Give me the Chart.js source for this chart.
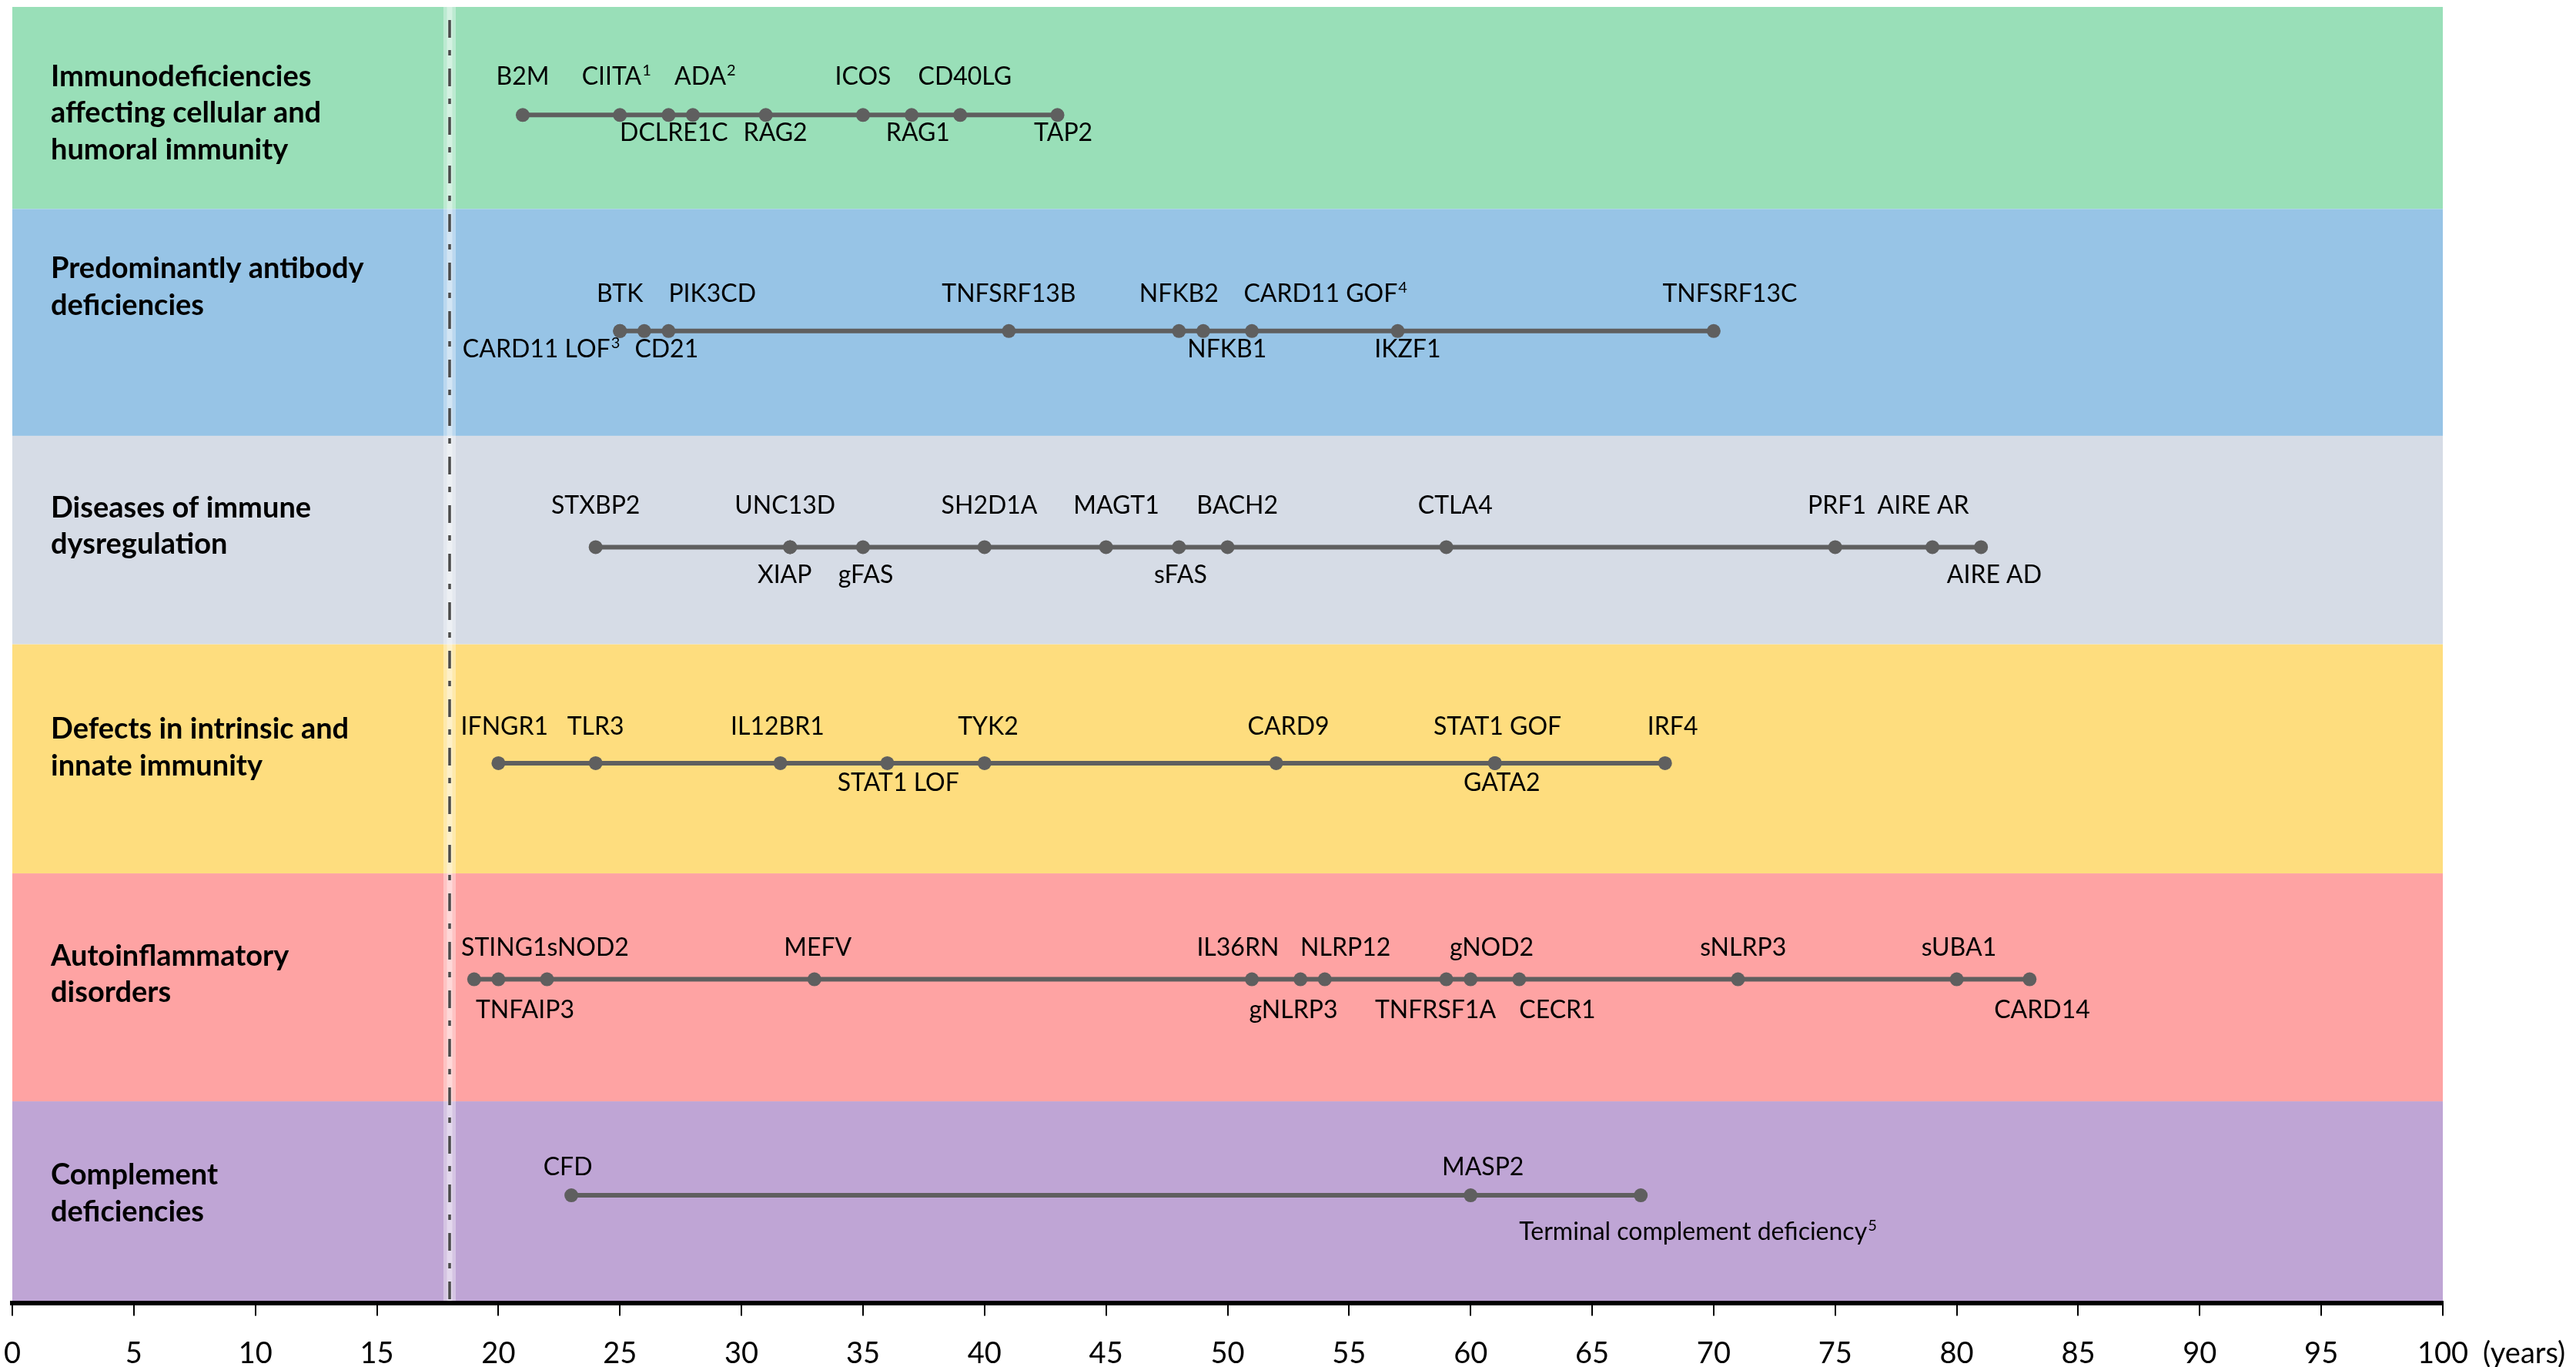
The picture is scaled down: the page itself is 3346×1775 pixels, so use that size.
<!DOCTYPE html>
<html>
<head>
<meta charset="utf-8">
<title>Age at diagnosis by IEI category</title>
<script src="https://cdn.jsdelivr.net/npm/chart.js@4.4.1/dist/chart.umd.min.js"></script>
<style>
  html, body { margin: 0; padding: 0; background: #fff; }
  #chart { display: block; }
</style>
</head>
<body>
<canvas id="chart" width="3346" height="1775"></canvas>
<script>
// ---- data ----
var categoryTitles = [
    ['Immunodeficiencies', 'affecting cellular and', 'humoral immunity'],
    ['Predominantly antibody', 'deficiencies'],
    ['Diseases of immune', 'dysregulation'],
    ['Defects in intrinsic and', 'innate immunity'],
    ['Autoinflammatory', 'disorders'],
    ['Complement', 'deficiencies']
];

var cutoffAge = 18;          // dash-dot reference line
var axisMin = 0, axisMax = 100, axisStep = 5;
var axisUnit = '(years)';

var cellularGenes = ['B2M', 'CIITA¹', 'DCLRE1C', 'ADA²', 'RAG2', 'ICOS', 'RAG1', 'CD40LG', 'TAP2'];
var cellularAges  = [21, 25, 27, 28, 31, 35, 37, 39, 43];

var antibodyGenes = ['BTK', 'CARD11 LOF³', 'CD21', 'PIK3CD', 'TNFSRF13B', 'NFKB2', 'NFKB1', 'CARD11 GOF⁴', 'IKZF1', 'TNFSRF13C'];
var antibodyAges  = [25, 25, 26, 27, 41, 48, 49, 51, 57, 70];

var dysregGenes = ['STXBP2', 'UNC13D', 'XIAP', 'gFAS', 'SH2D1A', 'MAGT1', 'sFAS', 'BACH2', 'CTLA4', 'PRF1', 'AIRE AR', 'AIRE AD'];
var dysregAges  = [24, 32, 32, 35, 40, 45, 48, 50, 59, 75, 79, 81];

var innateGenes = ['IFNGR1', 'TLR3', 'IL12BR1', 'STAT1 LOF', 'TYK2', 'CARD9', 'STAT1 GOF', 'GATA2', 'IRF4'];
var innateAges  = [20, 24, 31.6, 36, 40, 52, 61, 61, 68];

var autoinflGenes = ['STING1', 'TNFAIP3', 'sNOD2', 'MEFV', 'IL36RN', 'gNLRP3', 'NLRP12', 'TNFRSF1A', 'gNOD2', 'CECR1', 'sNLRP3', 'sUBA1', 'CARD14'];
var autoinflAges  = [19, 20, 22, 33, 51, 53, 54, 59, 60, 62, 71, 80, 83];

var complementGenes = ['CFD', 'MASP2', 'Terminal complement deficiency⁵'];
var complementAges  = [23, 60, 67];

// ---- label placement (a = above the line, b = below; anchor = share of text left of the point) ----
var cellularSide     = ['a','a','b','a','b','a','b','a','b'];
var cellularAnchor   = [.5, .55, .45, .3, .35, .5, .4, .45, .4];
var antibodySide     = ['a','b','b','a','a','a','b','a','b','a'];
var antibodyAnchor   = [.5, 1, .15, 0, .5, .5, .2, .05, .35, .38];
var dysregSide       = ['a','a','b','b','a','a','b','a','a','a','a','b'];
var dysregAnchor     = [.5, .55, .6, .45, .45, .38, .47, .38, .38, .47, .6, .36];
var innateSide       = ['a','a','a','b','a','a','a','b','a'];
var innateAnchor     = [.43, .5, .53, .41, .44, .35, .48, .41, .35];
var autoinflSide     = ['a','b','a','a','a','b','a','b','a','b','a','a','b'];
var autoinflAnchor   = [.15, .23, 0, .45, .67, .58, .27, .59, .25, 0, .44, .47, .37];
var complementSide   = ['a','a','b'];
var complementAnchor = [.57, .35, .34];

// ---- look ----
var bandColors = ['#99dfb8', '#97c4e6', '#d6dce6', '#fedd7e', '#fea3a3', '#bfa5d5'];
var bandEdges  = [-0.5, 0.435, 1.485, 2.45, 3.51, 4.565, 5.5];   // in row units
var markColor  = '#5f5f5f';
var labelAbove = [39, 38, 43, 37, 31, 26];   // px from line to text baseline
var labelBelow = [11, 11, 24, 13, 27, 35];   // px from line to cap top
var titleShift = [-50, -81, -51, -44, -30, -26];
var FONT = 'Lato, "Open Sans", sans-serif';
var LABEL_SIZE = 32;
var TICK_LEN = 16, TICK_PAD = 27, TICK_SIZE = 38;

var rows = [
    { genes: cellularGenes,   ages: cellularAges,   side: cellularSide,   anchor: cellularAnchor },
    { genes: antibodyGenes,   ages: antibodyAges,   side: antibodySide,   anchor: antibodyAnchor },
    { genes: dysregGenes,     ages: dysregAges,     side: dysregSide,     anchor: dysregAnchor },
    { genes: innateGenes,     ages: innateAges,     side: innateSide,     anchor: innateAnchor },
    { genes: autoinflGenes,   ages: autoinflAges,   side: autoinflSide,   anchor: autoinflAnchor },
    { genes: complementGenes, ages: complementAges, side: complementSide, anchor: complementAnchor }
];

var supDigits = { '¹': '1', '²': '2', '³': '3', '⁴': '4', '⁵': '5' };

// draws a gene label, trailing superscript digits drawn small and raised
function drawLabel(ctx, text, x, y, anchor) {
    var m = text.match(/^(.*?)([¹²³⁴⁵]*)$/);
    var main = m[1];
    var sup = m[2].split('').map(function (c) { return supDigits[c]; }).join('');
    ctx.font = LABEL_SIZE + 'px ' + FONT;
    var mainW = ctx.measureText(main).width;
    ctx.font = Math.round(LABEL_SIZE * 0.62) + 'px ' + FONT;
    var supW = sup ? ctx.measureText(sup).width + 1 : 0;
    var start = x - anchor * (mainW + supW);
    ctx.font = LABEL_SIZE + 'px ' + FONT;
    ctx.fillText(main, start, y);
    if (sup) {
        ctx.font = Math.round(LABEL_SIZE * 0.62) + 'px ' + FONT;
        ctx.fillText(sup, start + mainW + 1, y - LABEL_SIZE * 0.38);
    }
}

var backdropPlugin = {
    id: 'backdrop',
    beforeDraw: function (chart) {
        var ctx = chart.ctx, area = chart.chartArea;
        var xs = chart.scales.x, ys = chart.scales.y;
        ctx.save();
        // coloured category bands
        for (var i = 0; i < bandColors.length; i++) {
            var top = ys.getPixelForValue(bandEdges[i]);
            var bottom = ys.getPixelForValue(bandEdges[i + 1]);
            ctx.fillStyle = bandColors[i];
            ctx.fillRect(area.left, top, area.right - area.left, bottom - top);
        }
        // category titles
        ctx.fillStyle = '#000';
        ctx.font = 'bold 38px ' + FONT;
        ctx.textBaseline = 'middle';
        ctx.textAlign = 'left';
        categoryTitles.forEach(function (lines, i) {
            var lineY = ys.getPixelForValue(i);
            lines.forEach(function (line, k) {
                ctx.fillText(line, area.left + 50, lineY + titleShift[i] + k * 47.5);
            });
        });
        // 18-year reference line with a pale halo
        var cx = Math.round(xs.getPixelForValue(cutoffAge));
        ctx.strokeStyle = 'rgba(255,255,255,0.35)';
        ctx.lineWidth = 16;
        ctx.beginPath(); ctx.moveTo(cx, area.top); ctx.lineTo(cx, area.bottom); ctx.stroke();
        ctx.lineWidth = 7;
        ctx.beginPath(); ctx.moveTo(cx, area.top); ctx.lineTo(cx, area.bottom); ctx.stroke();
        ctx.strokeStyle = '#4a4a4a';
        ctx.lineWidth = 3.5;
        ctx.setLineDash([23, 16, 7, 17]);
        ctx.beginPath(); ctx.moveTo(cx, area.top + 17); ctx.lineTo(cx, area.bottom); ctx.stroke();
        ctx.restore();
    }
};

var labelPlugin = {
    id: 'geneLabels',
    afterDatasetsDraw: function (chart) {
        var ctx = chart.ctx;
        ctx.save();
        ctx.fillStyle = '#000';
        ctx.textBaseline = 'alphabetic';
        ctx.textAlign = 'left';
        var capH = LABEL_SIZE * 0.72;
        rows.forEach(function (row, i) {
            var meta = chart.getDatasetMeta(i);
            meta.data.forEach(function (pt, j) {
                var y = row.side[j] === 'a' ? pt.y - labelAbove[i] : pt.y + labelBelow[i] + capH;
                drawLabel(ctx, row.genes[j], pt.x, y, row.anchor[j]);
            });
        });
        // unit after the last tick
        var xs = chart.scales.x;
        ctx.font = TICK_SIZE + 'px ' + FONT;
        ctx.textBaseline = 'middle';
        ctx.fillText(axisUnit, xs.getPixelForValue(axisMax) + 52, xs.top + TICK_LEN + TICK_PAD + TICK_SIZE * 0.6);
        ctx.restore();
    }
};

var ctx = document.getElementById('chart');

var chart = new Chart(ctx, {
    type: 'scatter',
    data: {
        datasets: rows.map(function (row, i) {
            return {
                label: categoryTitles[i].join(' '),
                data: row.ages.map(function (age) { return { x: age, y: i }; }),
                showLine: true,
                borderColor: markColor,
                borderWidth: 6,
                pointRadius: 9,
                pointHoverRadius: 9,
                pointBackgroundColor: markColor,
                pointBorderWidth: 0
            };
        })
    },
    options: {
        responsive: false,
        devicePixelRatio: 1,
        animation: false,
        events: [],
        layout: { padding: { top: 8, left: 16, right: 173, bottom: -33 } },
        scales: {
            x: {
                type: 'linear',
                min: axisMin,
                max: axisMax,
                border: { display: true, color: '#000', width: 6 },
                grid: { drawOnChartArea: false, drawTicks: true, tickLength: TICK_LEN, color: '#000', lineWidth: 2 },
                ticks: {
                    stepSize: axisStep,
                    autoSkip: false,
                    maxRotation: 0,
                    padding: TICK_PAD,
                    color: '#000',
                    font: { family: FONT, size: TICK_SIZE }
                },
                afterFit: function (scale) {
                    // keep the plot edge where the reference has it
                    scale.paddingLeft = 0;
                    scale.paddingRight = 0;
                }
            },
            y: {
                type: 'linear',
                min: -0.5,
                max: 5.5,
                reverse: true,
                display: false
            }
        },
        plugins: {
            legend: { display: false },
            tooltip: { enabled: false }
        }
    },
    plugins: [backdropPlugin, labelPlugin]
});
</script>
</body>
</html>
